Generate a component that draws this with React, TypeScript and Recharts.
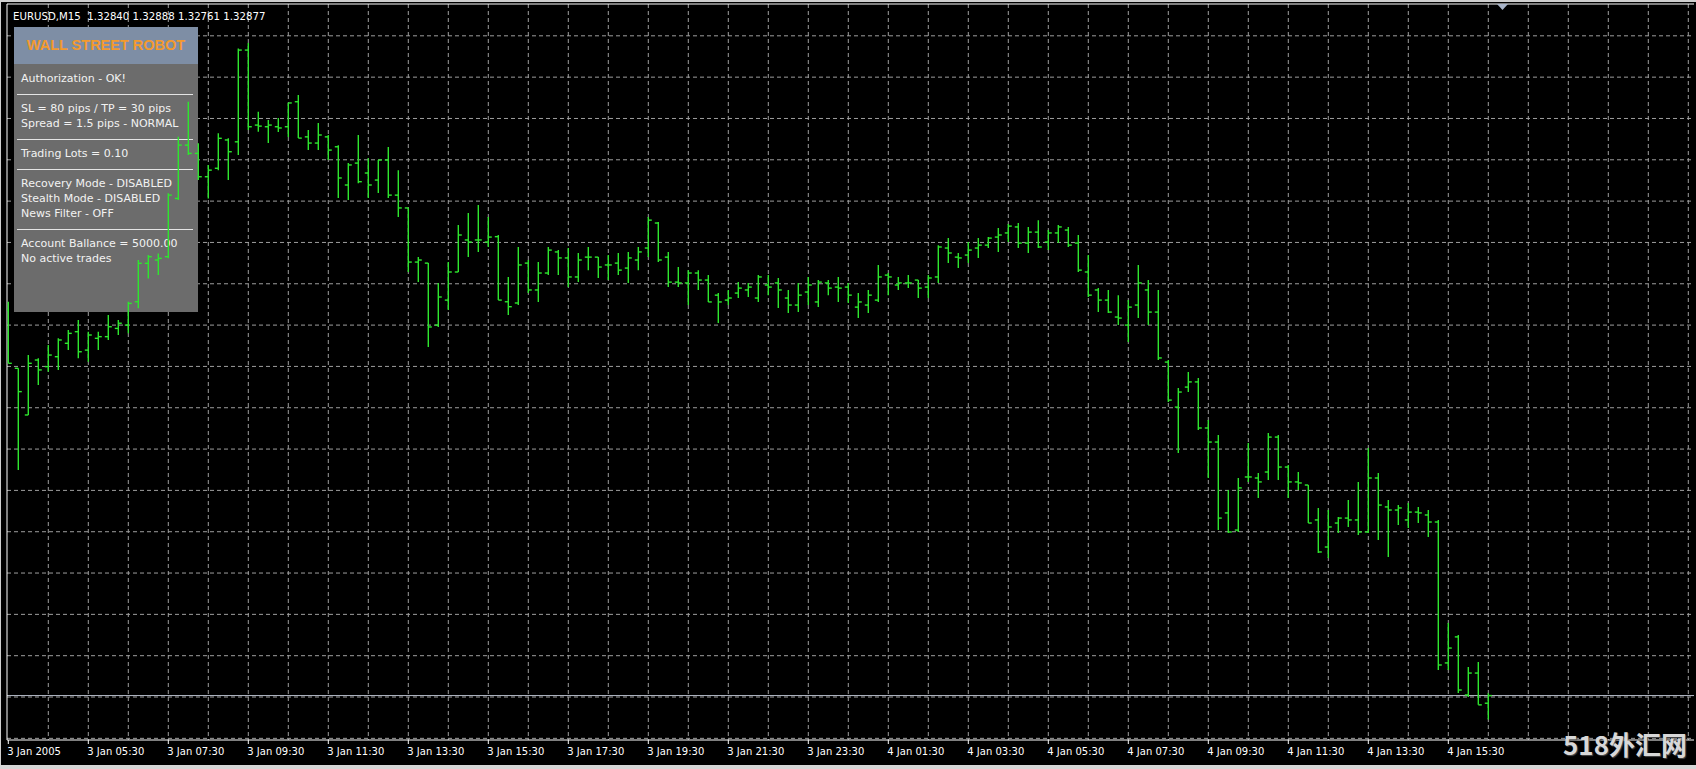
import React from "react";
import { Bar, CartesianGrid, ComposedChart, ReferenceLine, XAxis, YAxis } from "recharts";

const SYMBOL = "EURUSD";
const PERIOD = "M15";

// M15 bars, first one is 3 Jan 2005 03:30
const opens = [
  1.34743, 1.34461, 1.34235, 1.34501, 1.34469, 1.34517, 1.34582, 1.34638, 1.34549, 1.34606,
  1.34614, 1.34654, 1.3467, 1.34783, 1.34969, 1.34985, 1.35001, 1.35283, 1.35541, 1.35501,
  1.35388, 1.35429, 1.35566, 1.35557, 1.36001, 1.35638, 1.3563, 1.3563, 1.3563, 1.35751,
  1.35581, 1.35551, 1.35581, 1.35533, 1.35348, 1.35454, 1.35406, 1.35372, 1.35469, 1.35299,
  1.35237, 1.34975, 1.3497, 1.3467, 1.34791, 1.34927, 1.35082, 1.35082, 1.35072, 1.35098,
  1.34783, 1.34777, 1.3497, 1.3484, 1.34922, 1.35024, 1.34995, 1.34903, 1.34999, 1.34999,
  1.34961, 1.3497, 1.34946, 1.34985, 1.35043, 1.35164, 1.34999, 1.34878, 1.34874, 1.34922,
  1.34888, 1.34815, 1.34791, 1.34825, 1.3484, 1.34801, 1.34864, 1.34874, 1.34801, 1.34767,
  1.3483, 1.34782, 1.34874, 1.34854, 1.34854, 1.34757, 1.34767, 1.34791, 1.34912, 1.34864,
  1.34874, 1.34888, 1.34854, 1.34903, 1.35043, 1.34999, 1.35009, 1.35043, 1.35057, 1.35096,
  1.35116, 1.35145, 1.35067, 1.3512, 1.35072, 1.35116, 1.3513, 1.35067, 1.34927, 1.3484,
  1.34791, 1.34709, 1.3467, 1.34767, 1.3484, 1.34733, 1.34491, 1.34273, 1.3437, 1.34395,
  1.34172, 1.34104, 1.33761, 1.33678, 1.33935, 1.3393, 1.33959, 1.34128, 1.33983, 1.33911,
  1.33896, 1.33727, 1.33596, 1.33712, 1.33736, 1.33727, 1.33669, 1.3393, 1.3379, 1.33775,
  1.33727, 1.33765, 1.33751, 1.33717, 1.33035, 1.33161, 1.3288, 1.32986, 1.3284,
];
const highs = [
  1.34783, 1.34461, 1.34525, 1.34509, 1.34574, 1.34606, 1.34646, 1.34695, 1.34638, 1.34638,
  1.34719, 1.34695, 1.34783, 1.34985, 1.35009, 1.35017, 1.35308, 1.35581, 1.35751, 1.3555,
  1.35445, 1.35598, 1.35574, 1.36009, 1.36035, 1.35703, 1.35662, 1.35672, 1.35745, 1.35783,
  1.35614, 1.35648, 1.3559, 1.35541, 1.35454, 1.3559, 1.35478, 1.35469, 1.35532, 1.3542,
  1.35237, 1.34999, 1.3497, 1.34874, 1.34975, 1.35154, 1.35212, 1.35251, 1.35193, 1.35106,
  1.34903, 1.35048, 1.34985, 1.34975, 1.35048, 1.35033, 1.35043, 1.35019, 1.35048, 1.34999,
  1.35009, 1.35019, 1.35024, 1.35048, 1.35193, 1.35169, 1.35024, 1.34951, 1.34936, 1.34936,
  1.34912, 1.34825, 1.3484, 1.34878, 1.34874, 1.34912, 1.34912, 1.34898, 1.3484, 1.34874,
  1.34903, 1.34888, 1.34888, 1.34903, 1.34874, 1.34825, 1.3484, 1.34961, 1.34922, 1.34903,
  1.34912, 1.34888, 1.34912, 1.35057, 1.35091, 1.35019, 1.35072, 1.35091, 1.35096, 1.3514,
  1.35159, 1.35164, 1.35145, 1.35178, 1.3513, 1.35154, 1.35145, 1.35106, 1.35009, 1.34849,
  1.3484, 1.34815, 1.34791, 1.34961, 1.34888, 1.3484, 1.34501, 1.34365, 1.34443, 1.34414,
  1.34211, 1.34138, 1.33872, 1.3393, 1.34099, 1.33954, 1.34148, 1.34138, 1.33993, 1.33959,
  1.33896, 1.33785, 1.33775, 1.33741, 1.33824, 1.33911, 1.34075, 1.33954, 1.33824, 1.33799,
  1.33809, 1.3379, 1.33775, 1.33727, 1.33228, 1.3317, 1.33015, 1.3304, 1.32888,
];
const lows = [
  1.34485, 1.33969, 1.34235, 1.3438, 1.34444, 1.34453, 1.34549, 1.34509, 1.34493, 1.34549,
  1.34598, 1.34622, 1.3463, 1.34751, 1.34896, 1.34912, 1.34993, 1.35275, 1.35493, 1.35372,
  1.35283, 1.3542, 1.35372, 1.35493, 1.35614, 1.35606, 1.35551, 1.35604, 1.3558, 1.35575,
  1.35517, 1.35517, 1.35469, 1.35285, 1.35275, 1.35357, 1.35285, 1.35309, 1.35285, 1.35193,
  1.34927, 1.34878, 1.34564, 1.34661, 1.34743, 1.34927, 1.34999, 1.35024, 1.35048, 1.34791,
  1.34719, 1.34767, 1.34825, 1.34782, 1.34912, 1.34912, 1.34854, 1.34878, 1.34936, 1.34898,
  1.34888, 1.34912, 1.34874, 1.34936, 1.34999, 1.34975, 1.34854, 1.34854, 1.34767, 1.3484,
  1.34782, 1.3468, 1.34767, 1.34801, 1.34806, 1.34782, 1.34815, 1.34753, 1.34728, 1.34733,
  1.34767, 1.34757, 1.34815, 1.34782, 1.34777, 1.34704, 1.34728, 1.34782, 1.34815, 1.3484,
  1.34849, 1.34801, 1.34801, 1.34874, 1.3497, 1.34946, 1.3497, 1.34995, 1.35043, 1.35024,
  1.35072, 1.35043, 1.35019, 1.35043, 1.35033, 1.35067, 1.35048, 1.34927, 1.34806, 1.34733,
  1.34728, 1.3467, 1.34588, 1.34704, 1.3467, 1.34501, 1.34298, 1.34051, 1.34346, 1.34162,
  1.3393, 1.33678, 1.33664, 1.33669, 1.33911, 1.33833, 1.3392, 1.3392, 1.33833, 1.33872,
  1.33712, 1.33567, 1.33543, 1.33664, 1.33693, 1.33654, 1.33664, 1.3363, 1.33548, 1.33702,
  1.33688, 1.33712, 1.33645, 1.33001, 1.33001, 1.3289, 1.3287, 1.32832, 1.32761,
];
const closes = [
  1.34485, 1.34348, 1.34485, 1.34453, 1.34525, 1.34598, 1.3463, 1.34541, 1.34622, 1.34614,
  1.34662, 1.34679, 1.34775, 1.34969, 1.35001, 1.34993, 1.35299, 1.35541, 1.35501, 1.35388,
  1.3542, 1.35574, 1.35509, 1.36001, 1.3563, 1.35633, 1.35638, 1.35624, 1.35745, 1.35575,
  1.35551, 1.3559, 1.35517, 1.35382, 1.35445, 1.35364, 1.35348, 1.35469, 1.35299, 1.35237,
  1.34975, 1.34985, 1.34661, 1.34806, 1.34927, 1.35106, 1.35072, 1.35082, 1.35096, 1.34791,
  1.34759, 1.34961, 1.3484, 1.34922, 1.35033, 1.34995, 1.34903, 1.34985, 1.34999, 1.34951,
  1.34961, 1.34936, 1.34995, 1.35024, 1.35178, 1.34985, 1.34878, 1.34874, 1.34922, 1.34888,
  1.34782, 1.34782, 1.34801, 1.34849, 1.34854, 1.34903, 1.34854, 1.3484, 1.34767, 1.34815,
  1.34864, 1.34878, 1.34849, 1.34849, 1.34815, 1.34782, 1.34815, 1.34903, 1.34903, 1.34874,
  1.34874, 1.34849, 1.34898, 1.35048, 1.35019, 1.34995, 1.35033, 1.35057, 1.35091, 1.35106,
  1.35149, 1.35067, 1.3512, 1.35048, 1.35116, 1.35145, 1.35057, 1.34936, 1.34815, 1.34791,
  1.34733, 1.34704, 1.34757, 1.34874, 1.34733, 1.34511, 1.34307, 1.34346, 1.34395, 1.34172,
  1.34104, 1.33736, 1.33669, 1.33882, 1.33935, 1.33911, 1.34128, 1.33983, 1.33911, 1.33906,
  1.33712, 1.33572, 1.33693, 1.33736, 1.33727, 1.33669, 1.3393, 1.33799, 1.33775, 1.33785,
  1.33765, 1.33761, 1.33717, 1.33025, 1.33107, 1.32904, 1.32986, 1.32832, 1.32877,
];

// time scale: a label every 8 bars, a grid line every 4
const labelBars = [0, 8, 16, 24, 32, 40, 48, 56, 64, 72, 80, 88, 96, 104, 112, 120, 128, 136, 144];
const timeLabels = [
  "3 Jan 2005", "3 Jan 05:30", "3 Jan 07:30", "3 Jan 09:30", "3 Jan 11:30", "3 Jan 13:30",
  "3 Jan 15:30", "3 Jan 17:30", "3 Jan 19:30", "3 Jan 21:30", "3 Jan 23:30", "4 Jan 01:30",
  "4 Jan 03:30", "4 Jan 05:30", "4 Jan 07:30", "4 Jan 09:30", "4 Jan 11:30", "4 Jan 13:30",
  "4 Jan 15:30",
];
const gridBars = [
  4, 8, 12, 16, 20, 24, 28, 32, 36, 40, 44, 48, 52, 56, 60, 64, 68, 72, 76, 80, 84,
  88, 92, 96, 100, 104, 108, 112, 116, 120, 124, 128, 132, 136, 140, 144, 148, 152, 156, 160, 164, 168,
];
const gridPrices = [
  1.3607, 1.3587, 1.3567, 1.3547, 1.3527, 1.3507, 1.3487, 1.3467, 1.3447,
  1.3427, 1.3407, 1.3387, 1.3367, 1.3347, 1.3327, 1.3307, 1.3287, 1.3267,
];

const panelGroups = [
  ["Authorization - OK!"],
  ["SL = 80 pips / TP = 30 pips", "Spread = 1.5 pips - NORMAL"],
  ["Trading Lots = 0.10"],
  ["Recovery Mode - DISABLED", "Stealth Mode - DISABLED", "News Filter - OFF"],
  ["Account Ballance = 5000.00", "No active trades"],
];

const X_DOMAIN: [number, number] = [-0.13, 168.57];
const Y_DOMAIN: [number, number] = [1.32662, 1.36224];
const BAR_COLOR = "#2ee62e";
const FONT = "'DejaVu Sans', Verdana, sans-serif";

const rows = opens.map((open, i) => ({
  i,
  open,
  high: highs[i],
  low: lows[i],
  close: closes[i],
  range: [lows[i], highs[i]],
}));

const last = rows[rows.length - 1];

function OhlcShape(props: any) {
  const { x, y, width, height, payload } = props;
  if (x == null || y == null || !payload) return null;
  const cx = x + width / 2;
  const span = payload.high - payload.low || 1;
  const yOpen = y + ((payload.high - payload.open) / span) * height;
  const yClose = y + ((payload.high - payload.close) / span) * height;
  return (
    <g stroke={BAR_COLOR} strokeWidth={1.4}>
      <line x1={cx} x2={cx} y1={y} y2={y + height} />
      <line x1={cx - 3.5} x2={cx} y1={yOpen} y2={yOpen} />
      <line x1={cx} x2={cx + 3.5} y1={yClose} y2={yClose} />
    </g>
  );
}

function TimeTick(props: any) {
  const { x, y, payload } = props;
  const k = labelBars.indexOf(payload.value);
  if (k < 0) return null;
  return (
    <text x={x - 1} y={y + 9} fill="#ffffff" fontSize={10} fontFamily={FONT}>
      {timeLabels[k]}
    </text>
  );
}

// price scale is not shown, but the ticks must exist for the grid
function NoTick() {
  return <g />;
}

function InfoPanel() {
  return (
    <div
      style={{
        position: "absolute",
        left: 14,
        top: 27,
        width: 184,
        height: 285,
        background: "#6c6c6c",
        fontFamily: FONT,
        fontSize: 11,
        color: "#f2f2f2",
      }}
    >
      <div
        style={{
          height: 37,
          background: "#7e8ea5",
          color: "#f39a2e",
          fontFamily: "'Liberation Sans', Arial, sans-serif",
          fontWeight: 700,
          fontSize: 14.5,
          lineHeight: "37px",
          textAlign: "center",
        }}
      >
        WALL STREET ROBOT
      </div>
      <div style={{ paddingTop: 1 }}>
        {panelGroups.map((lines, g) => (
          <div
            key={g}
            style={{
              margin: "0 5px 0 3px",
              padding: "6px 0 8px 4px",
              borderBottom: g < panelGroups.length - 1 ? "1px solid #e4e4e4" : "none",
            }}
          >
            {lines.map((t) => (
              <div key={t} style={{ lineHeight: "15px", whiteSpace: "nowrap" }}>
                {t}
              </div>
            ))}
          </div>
        ))}
      </div>
    </div>
  );
}

export default function App() {
  const header = `${SYMBOL},${PERIOD}  ${last.open.toFixed(5)} ${last.high.toFixed(5)} ${last.low.toFixed(5)} ${last.close.toFixed(5)}`;
  return (
    <div
      style={{
        position: "absolute",
        left: 0,
        top: 0,
        width: 1696,
        height: 769,
        background: "#000000",
        overflow: "hidden",
      }}
    >
      {/* grid, axes and bid line */}
      <div style={{ position: "absolute", left: 0, top: 0 }}>
        <ComposedChart width={1696} height={769} data={rows} margin={{ top: 0, right: 2, bottom: 0, left: 0 }}>
          <CartesianGrid
            xAxisId="main"
            yAxisId="price"
            verticalValues={gridBars}
            horizontalValues={gridPrices}
            stroke="#9e9e9e"
            strokeDasharray="4 3"
          />
          <XAxis
            xAxisId="main"
            type="number"
            dataKey="i"
            domain={X_DOMAIN}
            allowDataOverflow
            ticks={labelBars}
            interval={0}
            height={29}
            tickSize={4}
            axisLine={{ stroke: "#ffffff" }}
            tickLine={{ stroke: "#ffffff" }}
            tick={<TimeTick />}
          />
          <XAxis
            xAxisId="top"
            orientation="top"
            type="number"
            dataKey="i"
            domain={X_DOMAIN}
            allowDataOverflow
            height={4}
            tick={false}
            tickLine={false}
            axisLine={{ stroke: "#ffffff" }}
          />
          <YAxis
            yAxisId="price"
            type="number"
            domain={Y_DOMAIN}
            allowDataOverflow
            ticks={gridPrices}
            interval={0}
            width={7}
            tick={<NoTick />}
            tickLine={false}
            axisLine={{ stroke: "#ffffff" }}
          />
          <ReferenceLine xAxisId="main" yAxisId="price" y={last.close} stroke="#b7bdca" />
        </ComposedChart>
      </div>

      <InfoPanel />

      {/* price bars on top of the panel */}
      <div style={{ position: "absolute", left: 0, top: 0 }}>
        <ComposedChart width={1696} height={769} data={rows} margin={{ top: 4, right: 2, bottom: 29, left: 7 }}>
          <XAxis type="number" dataKey="i" domain={X_DOMAIN} allowDataOverflow hide />
          <YAxis type="number" domain={Y_DOMAIN} allowDataOverflow hide />
          <Bar dataKey="range" shape={OhlcShape} barSize={6} isAnimationActive={false} />
        </ComposedChart>
      </div>

      <div
        style={{
          position: "absolute",
          left: 13,
          top: 11,
          fontFamily: FONT,
          fontSize: 10.2,
          lineHeight: "12px",
          color: "#ffffff",
          whiteSpace: "pre",
        }}
      >
        {header}
      </div>

      <svg style={{ position: "absolute", left: 1497, top: 4 }} width={12} height={8}>
        <polygon points="0,0 11,0 5.5,6" fill="#a9b5c9" />
      </svg>

      <div
        style={{
          position: "absolute",
          left: 1563,
          top: 731,
          fontFamily: "'Noto Sans CJK SC', sans-serif",
          fontWeight: 700,
          fontSize: 26,
          lineHeight: "26px",
          color: "#d8d8d8",
          textShadow: "1px 1px 1px #4a4a4a",
          whiteSpace: "nowrap",
        }}
      >
        518外汇网
      </div>

      {/* window frame */}
      <div style={{ position: "absolute", left: 0, top: 0, width: 1696, height: 2, background: "#cfcfcf" }} />
      <div style={{ position: "absolute", left: 0, top: 0, width: 1, height: 769, background: "#cfcfcf" }} />
      <div style={{ position: "absolute", left: 0, top: 765, width: 1696, height: 4, background: "#d6d6d6" }} />
    </div>
  );
}
